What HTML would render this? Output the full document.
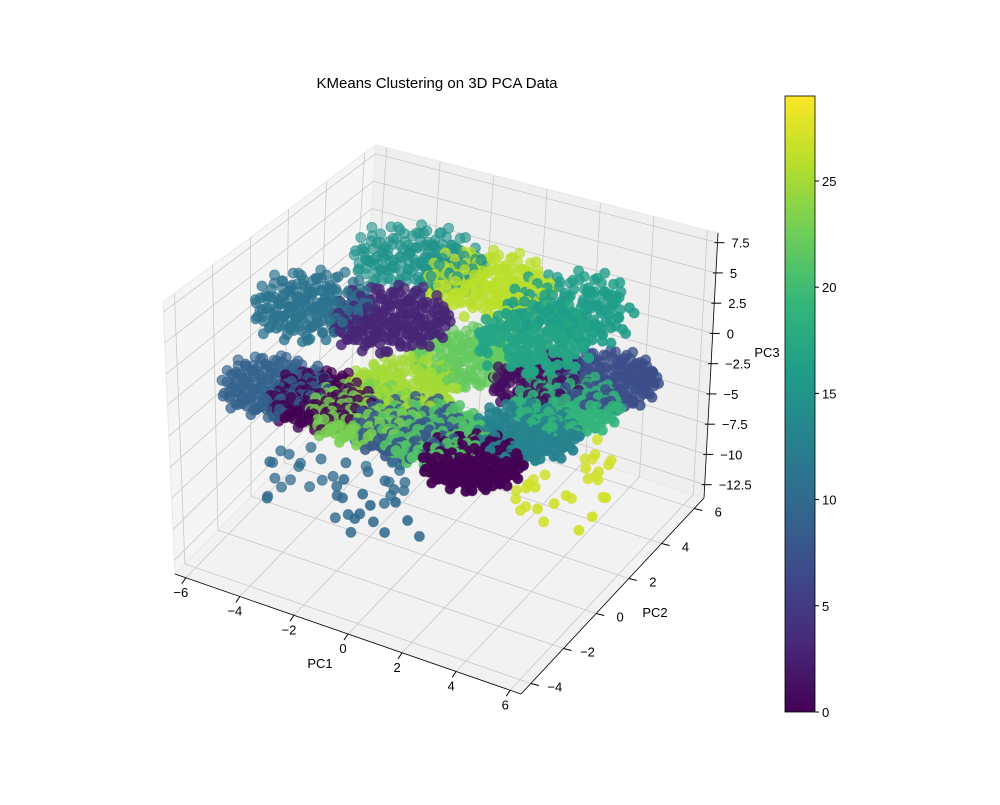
<!DOCTYPE html>
<html><head><meta charset="utf-8"><style>
body{margin:0;background:#fff}
svg{font-family:"Liberation Sans",sans-serif;font-size:13px}
</style></head><body>
<svg id="chart" width="1000" height="800">
<text x="437" y="88" text-anchor="middle" font-size="15">KMeans Clustering on 3D PCA Data</text>
<g id="panes"></g><g id="grid"></g><g id="axes"></g><g id="pts"></g><g id="cbar"></g>
</svg>
<script>
// cluster data: label, center x (PC1), y (PC2), z (PC3), spread x, y, z, point count
const clusterLabels=[9,0,23,25,8,21,0,13,19,7,1,22,11,3,15,26,16,17,10,27];
const clusterX=[-5.5,-3.8,-2.2,-2.0,-0.5,0.3,2.3,2.9,3.2,3.5,1.7,-1.1,-5.0,-2.4,-3.6,-0.8,2.3,2.3,-2.1,2.9];
const clusterY=[0.05,0.06,0.03,1.9,0.05,0.04,-0.7,1.4,3.3,5.0,4.1,4.2,1.35,1.8,5.1,4.9,4.7,2.9,-1.0,2.3];
const clusterZ=[-3.75,-3.75,-3.75,-3.75,-3.75,-3.75,-3.75,-3.75,-3.75,-3.75,-3.75,-3.75,1.7,1.7,1.7,1.7,1.7,1.7,-8.1,-8.1];
const clusterSX=[1.15,1.1,1.15,1.1,1.15,1.15,1.05,1.1,1.1,1.1,1.0,1.1,1.2,1.2,1.4,1.35,1.3,1.2,2.0,2.2];
const clusterSY=[1.0,0.95,1.0,1.0,1.0,1.0,0.9,1.0,1.0,1.0,0.9,1.0,1.1,1.1,1.0,1.0,1.2,1.1,1.3,1.3];
const clusterSZ=[0.4,0.4,0.4,0.4,0.4,0.4,0.4,0.4,0.4,0.4,0.4,0.4,0.8,0.6,0.9,0.8,0.9,0.7,1.5,1.5];
const clusterN=[200,200,210,170,200,200,200,190,200,200,150,170,200,200,190,200,170,150,50,45];
const xTicks=[-6,-4,-2,0,2,4,6];
const yTicks=[-4,-2,0,2,4,6];
const zTicks=[-12.5,-10,-7.5,-5,-2.5,0,2.5,5,7.5];
const cbTicks=[0,5,10,15,20,25];
const xMin=-6.4,xMax=6.4,yMin=-4.6,yMax=6.6,zMin=-13.6,zMax=8.3,cMax=29;
const NS="http://www.w3.org/2000/svg";
function el(t,a,p){const e=document.createElementNS(NS,t);for(const k in a)e.setAttribute(k,a[k]);document.getElementById(p).appendChild(e);return e;}
const FA=[175,574],FB=[521,694],FC=[704,498],FD=[360,385];
const ZA=[-12,-272],ZB=[-15,-300],ZC=[14,-265],ZD=[16,-240];
function bil(a,b,c,d,u,v,k){return a[k]*(1-u)*(1-v)+b[k]*u*(1-v)+c[k]*u*v+d[k]*(1-u)*v;}
function proj(x,y,z){const nx=(x-xMin)/(xMax-xMin),ny=(y-yMin)/(yMax-yMin),nz=(z-zMin)/(zMax-zMin);
 return [bil(FA,FB,FC,FD,nx,ny,0)+bil(ZA,ZB,ZC,ZD,nx,ny,0)*nz, bil(FA,FB,FC,FD,nx,ny,1)+bil(ZA,ZB,ZC,ZD,nx,ny,1)*nz, nx-ny+0.6*nz];}
function pstr(a){return a.map(p=>p[0].toFixed(1)+","+p[1].toFixed(1)).join(" ");}
const vir=[[68,1,84],[72,40,120],[62,74,137],[49,104,142],[38,130,142],[31,158,137],[53,183,121],[110,206,88],[181,222,43],[253,231,37]];
function viridis(t){t=Math.max(0,Math.min(1,t))*9;const i=Math.min(8,Math.floor(t)),f=t-i,a=vir[i],b=vir[i+1];
 return "rgb("+a.map((v,k)=>Math.round(v+(b[k]-v)*f)).join(",")+")";}
const P=(x,y,z)=>proj(x,y,z);
let e;
e=el("polygon",{points:pstr([P(xMin,yMin,zMin),P(xMax,yMin,zMin),P(xMax,yMax,zMin),P(xMin,yMax,zMin)]),fill:"#f2f2f2",stroke:"#e0e0e0"},"panes");

e=el("polygon",{points:pstr([P(xMin,yMin,zMin),P(xMin,yMax,zMin),P(xMin,yMax,zMax),P(xMin,yMin,zMax)]),fill:"#f5f5f5",stroke:"#e8e8e8"},"panes");

e=el("polygon",{points:pstr([P(xMin,yMax,zMin),P(xMax,yMax,zMin),P(xMax,yMax,zMax),P(xMin,yMax,zMax)]),fill:"#efefef",stroke:"#e8e8e8"},"panes");

function gl(a,b,n){const l=el("line",{x1:a[0],y1:a[1],x2:b[0],y2:b[1],stroke:"#c8c8c8","stroke-width":0.8},"grid");}
xTicks.forEach(t=>{gl(P(t,yMin,zMin),P(t,yMax,zMin),'x-grid');gl(P(t,yMax,zMin),P(t,yMax,zMax),'x-grid');
 const a=P(t,yMin,zMin);const tx=el("text",{x:a[0]-5,y:a[1]+19,"text-anchor":"middle"},"axes");tx.textContent=String(t).replace("-","−");
 
 const tk=el("line",{x1:a[0],y1:a[1],x2:a[0]-4,y2:a[1]+6,stroke:"#000"},"axes");});
yTicks.forEach(t=>{gl(P(xMin,t,zMin),P(xMax,t,zMin),'y-grid');gl(P(xMin,t,zMin),P(xMin,t,zMax),'y-grid');
 const a=P(xMax,t,zMin);const tx=el("text",{x:a[0]+24,y:a[1]+8,"text-anchor":"middle"},"axes");tx.textContent=String(t).replace("-","−");
 
 const tk=el("line",{x1:a[0],y1:a[1],x2:a[0]+8,y2:a[1]+2,stroke:"#000"},"axes");});
zTicks.forEach(t=>{gl(P(xMin,yMin,t),P(xMin,yMax,t),'z-grid');gl(P(xMin,yMax,t),P(xMax,yMax,t),'z-grid');
 const a=P(xMax,yMax,t);const tx=el("text",{x:a[0]+14,y:a[1]+5,"text-anchor":"start"},"axes");tx.textContent=String(t).replace("-","−");
 
 const tk=el("line",{x1:a[0]-3,y1:a[1],x2:a[0]+7,y2:a[1],stroke:"#000"},"axes");});
[[P(xMin,yMin,zMin),P(xMax,yMin,zMin),'x-axis-line'],[P(xMax,yMin,zMin),P(xMax,yMax,zMin),'y-axis-line'],[P(xMax,yMax,zMin),P(xMax,yMax,zMax),'z-axis-line']].forEach(s=>{
 const l=el("line",{x1:s[0][0],y1:s[0][1],x2:s[1][0],y2:s[1][1],stroke:"#000","stroke-width":0.8},"axes");});
[["PC1",320,668,'x-axis-title'],["PC2",655,617,'y-axis-title'],["PC3",767,357,'z-axis-title']].forEach(s=>{
 const t=el("text",{x:s[1],y:s[2],"text-anchor":"middle"},"axes");t.textContent=s[0];});
const offs=[];for(let i=0;i<211;i++){const r=Math.sqrt((i+0.5)/211),a=i*2.39996;offs.push([r*Math.cos(a),r*Math.sin(a),Math.sin(i*1.7)]);}
const pts=[];
clusterLabels.forEach((lab,c)=>{for(let i=0;i<clusterN[c];i++){const o=offs[(i*7+c*13)%211];
 const q=proj(clusterX[c]+o[0]*clusterSX[c]*1.6,clusterY[c]+o[1]*clusterSY[c]*1.6,clusterZ[c]+o[2]*clusterSZ[c]);pts.push([q,lab]);}});
pts.sort((a,b)=>a[0][2]-b[0][2]);
pts.forEach(p=>{const d=el("circle",{cx:p[0][0].toFixed(1),cy:p[0][1].toFixed(1),r:5,fill:viridis(p[1]/cMax),"fill-opacity":(0.6+0.35*Math.min(1,Math.max(0,p[0][2]+0.4))).toFixed(2),stroke:viridis(p[1]/cMax),"stroke-opacity":0.6},"pts");
 });
const defs=el("defs",{},"cbar");const lg=document.createElementNS(NS,"linearGradient");lg.setAttribute("id","vg");lg.setAttribute("x1","0");lg.setAttribute("y1","1");lg.setAttribute("x2","0");lg.setAttribute("y2","0");defs.appendChild(lg);
for(let i=0;i<=9;i++){const s=document.createElementNS(NS,"stop");s.setAttribute("offset",i/9);s.setAttribute("stop-color",viridis(i/9));lg.appendChild(s);}
const cb=el("rect",{x:785,y:96,width:30,height:616,fill:"url(#vg)",stroke:"#000","stroke-width":0.8},"cbar");
cbTicks.forEach(t=>{const y=712-616*t/cMax;const l=el("line",{x1:815,y1:y,x2:819,y2:y,stroke:"#000"},"cbar");
 const tx=el("text",{x:822,y:y+5},"cbar");tx.textContent=t;});
</script>
</body></html>
